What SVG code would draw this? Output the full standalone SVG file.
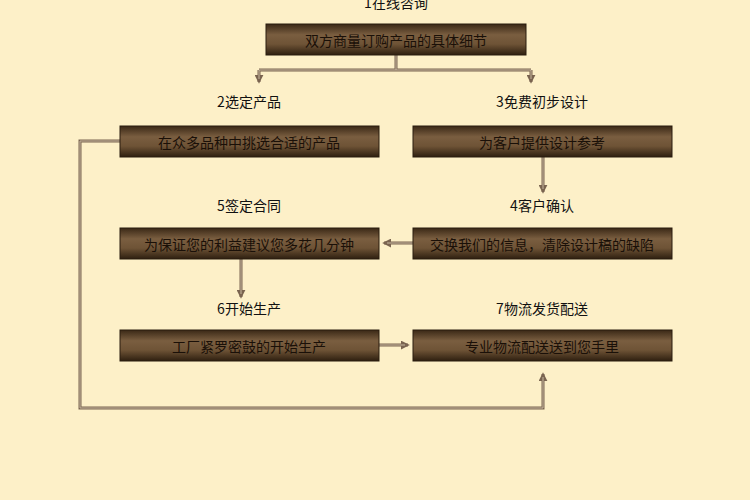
<svg xmlns="http://www.w3.org/2000/svg" width="750" height="500" viewBox="0 0 750 500">
<defs>
<linearGradient id="g" x1="0" y1="0" x2="0" y2="1">
<stop offset="0" stop-color="#3a2816"/><stop offset="0.35" stop-color="#7a5e40"/><stop offset="0.65" stop-color="#6e5336"/><stop offset="1" stop-color="#2e1f10"/>
</linearGradient>
<marker id="a" viewBox="0 0 10 10" refX="8" refY="5" markerWidth="3" markerHeight="3" orient="auto" markerUnits="strokeWidth"><path d="M0,0 L10,5 L0,10 z" fill="#7a6450"/></marker>
</defs>
<style>
.b{fill:url(#g);stroke:#2a1c0e;stroke-width:1}
.t{font-family:"Noto Sans CJK SC","Liberation Sans",sans-serif;font-size:14px;fill:#1a1008;text-anchor:middle;dominant-baseline:central}
.l{font-family:"Noto Sans CJK SC","Liberation Sans",sans-serif;font-size:14px;fill:#111;text-anchor:middle;dominant-baseline:central}
.c{fill:none;stroke:#7a6450;stroke-width:3}
.ci{fill:none;stroke:#c8b8a0;stroke-width:1}
</style>
<rect width="750" height="500" fill="#fdf0c8"/>
<g id="connectors">
<path class="c" d="M396,55 V70 M259,70 H531"/>
<path class="c" d="M259,70 V82" marker-end="url(#a)"/>
<path class="c" d="M531,70 V82" marker-end="url(#a)"/>
<path class="c" d="M543,157 V192" marker-end="url(#a)"/>
<path class="c" d="M413,243 H384" marker-end="url(#a)"/>
<path class="c" d="M241,259 V297" marker-end="url(#a)"/>
<path class="c" d="M379,345 H408" marker-end="url(#a)"/>
<path class="c" d="M120,141 H80 V408 H543 V374" marker-end="url(#a)"/>
<path class="ci" d="M396,55 V70 M259,70 H531 M259,70 V79 M531,70 V79 M120,141 H80 V408 H543 V377 M543,157 V189 M241,259 V294 M379,345 H405 M413,243 H387"/>
</g>
<text class="l" x="396" y="2">1在线咨询</text>
<g id="n1"><rect class="b" x="266" y="24" width="260" height="31"/><text class="t" x="396" y="40">双方商量订购产品的具体细节</text></g>
<g id="l2"><text class="l" x="249" y="101">2选定产品</text></g>
<g id="l3"><text class="l" x="542" y="101">3免费初步设计</text></g>
<g id="n2"><rect class="b" x="120" y="126" width="259" height="31"/><text class="t" x="249" y="142">在众多品种中挑选合适的产品</text></g>
<g id="n3"><rect class="b" x="413" y="126" width="259" height="31"/><text class="t" x="542" y="142">为客户提供设计参考</text></g>
<g id="l5"><text class="l" x="249" y="205">5签定合同</text></g>
<g id="l4"><text class="l" x="542" y="205">4客户确认</text></g>
<g id="n5"><rect class="b" x="120" y="228" width="259" height="31"/><text class="t" x="249" y="244">为保证您的利益建议您多花几分钟</text></g>
<g id="n4"><rect class="b" x="413" y="228" width="259" height="31"/><text class="t" x="542" y="244">交换我们的信息，清除设计稿的缺陷</text></g>
<g id="l6"><text class="l" x="249" y="308">6开始生产</text></g>
<g id="l7"><text class="l" x="542" y="308">7物流发货配送</text></g>
<g id="n6"><rect class="b" x="120" y="330" width="259" height="31"/><text class="t" x="249" y="346">工厂紧罗密鼓的开始生产</text></g>
<g id="n7"><rect class="b" x="413" y="330" width="259" height="31"/><text class="t" x="542" y="346">专业物流配送送到您手里</text></g>
</svg>
